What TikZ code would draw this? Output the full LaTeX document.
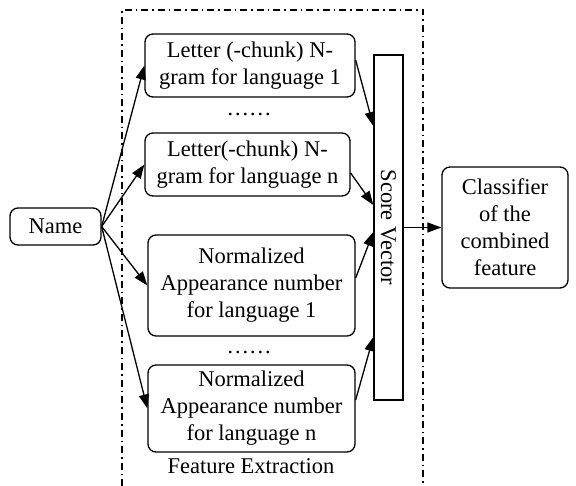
\documentclass[tikz,border=0pt]{standalone}
\usepackage{fontspec}
\setmainfont{Liberation Serif}
\usetikzlibrary{arrows.meta}
\begin{document}
\begin{tikzpicture}[x=1pt,y=-1pt,
  every node/.style={font=\fontsize{22.5}{27}\selectfont},
  box/.style={draw,line width=1.3pt,rounded corners=8pt,align=center,inner sep=0pt},
  conn/.style={line width=1.3pt,-{Triangle[length=14pt,width=10pt]}},
  frame/.style={line width=1.3pt,dash pattern=on 7pt off 4pt on 1.5pt off 4pt}]
\useasboundingbox (0,0) rectangle (576,486);
\draw[frame] (122,486) -- (122,10) -- (423,10) -- (423,486);
\node[box,minimum width=91pt,minimum height=37pt] (name) at (55.5,226.5) {Name};
\node[box,minimum width=210pt,minimum height=63pt] (b1) at (250,65.5) {Letter (-chunk) N-\\gram for language 1};
\node (d1) at (249,114) {……};
\node[box,minimum width=205pt,minimum height=63pt] (b2) at (247.5,164.5) {Letter(-chunk) N-\\gram for language n};
\node[box,minimum width=207pt,minimum height=101pt] (b3) at (251.5,285.5) {Normalized\\Appearance number\\for language 1};
\node (d2) at (249,352) {……};
\node[box,minimum width=207pt,minimum height=87pt] (b4) at (251.5,408.5) {Normalized\\Appearance number\\for language n};
\node (fe) at (251,466) {Feature Extraction};
\node[draw,line width=1.3pt,minimum width=29pt,minimum height=345pt,inner sep=0pt] (sv) at (388.5,227.5) {};
\node[rotate=-90] (svt) at (sv.center) {Score Vector};
\node[box,minimum width=126pt,minimum height=121pt] (cls) at (505,227.5) {Classifier\\of the\\combined\\feature};
\draw[conn] (name.east) -- (b1.west);
\draw[conn] (name.east) -- (b2.west);
\draw[conn] (name.east) -- (b3.west);
\draw[conn] (name.east) -- (b4.west);
\draw[conn] (b1.east |- 0,60) -- (sv.west |- 0,126);
\draw[conn] (b2.east |- 0,173) -- (sv.west |- 0,205);
\draw[conn] (b3.east |- 0,278) -- (sv.west |- 0,232);
\draw[conn] (b4.east |- 0,400) -- (sv.west |- 0,337);
\draw[conn] (sv.east) -- (cls.west);
\end{tikzpicture}
\end{document}
